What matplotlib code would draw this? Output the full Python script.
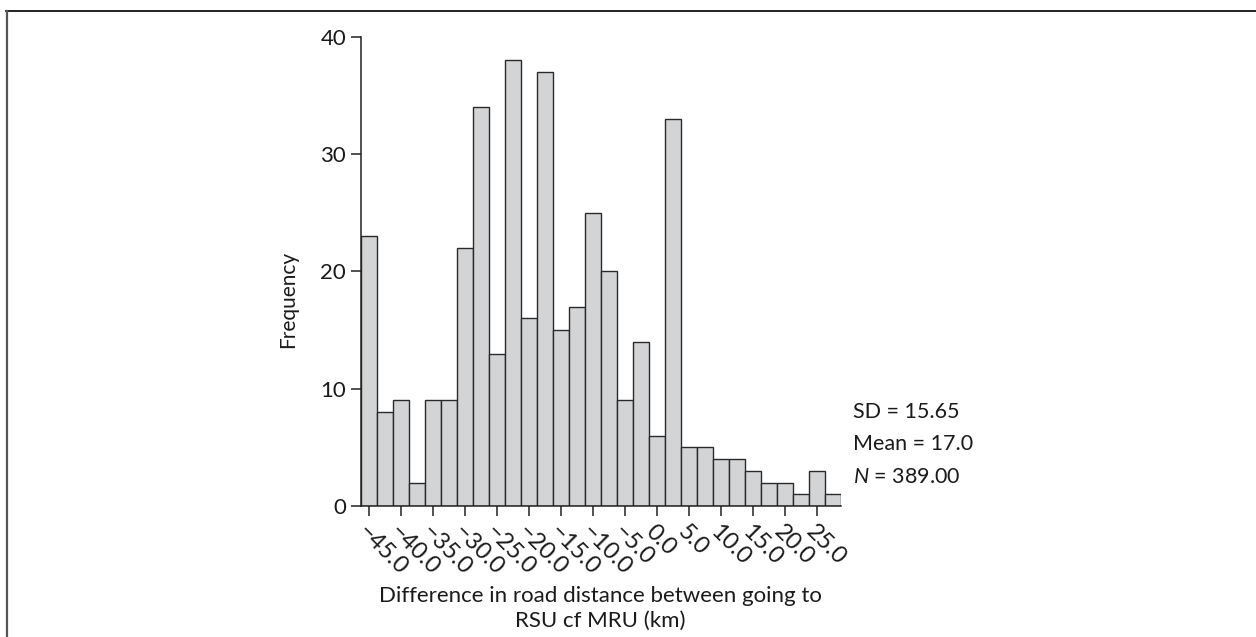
"""
Histogram: difference in road distance between going to RSU cf MRU
"""
import numpy as np
import matplotlib
matplotlib.use('Agg')
import matplotlib.pyplot as plt
from matplotlib.lines import Line2D
from matplotlib.ticker import FixedLocator

### Data (bin centres, km, and counts)
bin_centres = [-45.0, -42.5, -40.0, -37.5, -35.0, -32.5, -30.0, -27.5, -25.0, -22.5,
               -20.0, -17.5, -15.0, -12.5, -10.0, -7.5, -5.0, -2.5, 0.0, 2.5,
               5.0, 7.5, 10.0, 12.5, 15.0, 17.5, 20.0, 22.5, 25.0, 27.5]
counts = [23, 8, 9, 2, 9, 9, 22, 34, 13, 38,
          16, 37, 15, 17, 25, 20, 9, 14, 6, 33,
          5, 5, 4, 4, 3, 2, 2, 1, 3, 1]
bin_width = 2.5
xticks = [-45, -40, -35, -30, -25, -20, -15, -10, -5, 0, 5, 10, 15, 20, 25]
yticks = [0, 10, 20, 30, 40]
stats_lines = ['SD = 15.65', 'Mean = 17.0', '$\\it{N}$ = 389.00']
xlabel = 'Difference in road distance between going to\nRSU cf MRU (km)'
ylabel = 'Frequency'

plt.rcParams['font.family'] = ['Lato', 'DejaVu Sans']
plt.rcParams['mathtext.fontset'] = 'custom'
plt.rcParams['mathtext.it'] = 'Lato:italic'
plt.rcParams['mathtext.rm'] = 'Lato'


def fmt_tick(v):
    s = '{:.1f}'.format(abs(v))
    return ('\u2212' + s) if v < 0 else s


def main():
    fig = plt.figure(figsize=(12.56, 6.37), dpi=100)
    ax = fig.add_axes([0.2872, 0.2057, 0.3822, 0.7363])

    ax.bar(bin_centres, counts, width=bin_width, color='#d3d4d6',
           edgecolor='#2a2a2a', linewidth=1.0, align='center')

    ax.set_xlim(bin_centres[0] - bin_width / 2, bin_centres[-1] + bin_width / 2)
    ax.set_ylim(0, 40)

    ax.spines['top'].set_visible(False)
    ax.spines['right'].set_visible(False)
    for sp in ['left', 'bottom']:
        ax.spines[sp].set_linewidth(1.1)
        ax.spines[sp].set_color('#222222')

    ax.yaxis.set_major_locator(FixedLocator(yticks))
    ax.set_yticklabels([str(v) for v in yticks])
    ax.xaxis.set_major_locator(FixedLocator(xticks))
    ax.set_xticklabels([fmt_tick(v) for v in xticks], rotation=-45,
                       ha='left', va='top', rotation_mode='anchor')
    ax.tick_params(axis='both', which='major', labelsize=16, length=7,
                   width=1.1, color='#222222', labelcolor='#1a1a1a')
    ax.tick_params(axis='x', pad=4, labelsize=17)

    ax.set_xlabel(xlabel, fontsize=16, color='#1a1a1a', labelpad=5,
                  linespacing=1.3)
    ax.set_ylabel(ylabel, fontsize=15, color='#1a1a1a')
    ax.yaxis.set_label_coords(-0.13, 0.44)

    ### Summary statistics
    for i, line in enumerate(stats_lines):
        fig.text(853 / 1256, 1 - (412 + i * 32.5) / 637, line, fontsize=15.5,
                 ha='left', va='center', color='#1a1a1a')

    ### Frame lines (top and left)
    fig.add_artist(Line2D([0.005, 1.0], [1 - 10.5 / 637] * 2, color='#111111',
                          linewidth=1.3, transform=fig.transFigure))
    fig.add_artist(Line2D([7 / 1256] * 2, [0.0, 1 - 10.5 / 637], color='#555555',
                          linewidth=1.6, transform=fig.transFigure))

    fig.savefig('out.png', dpi=100)


if __name__ == '__main__':
    main()
